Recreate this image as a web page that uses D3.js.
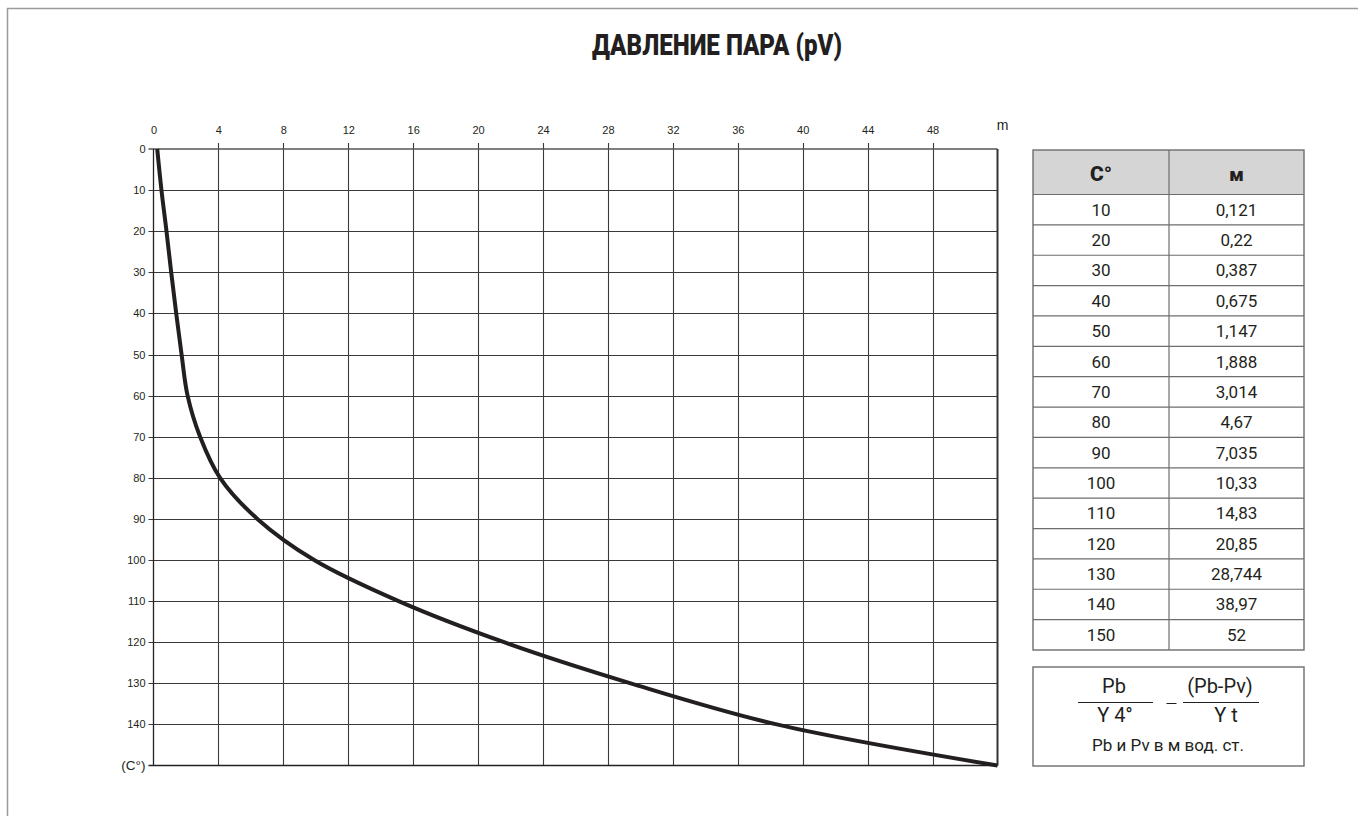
<!DOCTYPE html>
<html>
<head>
<meta charset="utf-8">
<script src="https://cdn.jsdelivr.net/npm/d3@7"></script>
<style>
  html, body { margin: 0; padding: 0; background: #fff; }
  svg { display: block; }
  .cond { font-family: "Roboto", "Liberation Sans Narrow", sans-serif; }
</style>
</head>
<body>
<svg id="chart" width="1358" height="816"></svg>
<script>
// ---- data ----
const titleText = "ДАВЛЕНИЕ ПАРА (pV)";
const xTickValues = [0, 4, 8, 12, 16, 20, 24, 28, 32, 36, 40, 44, 48];
const xUnitLabel = "m";
const yTickValues = [0, 10, 20, 30, 40, 50, 60, 70, 80, 90, 100, 110, 120, 130, 140, 150];
const yTickLabels = ["0", "10", "20", "30", "40", "50", "60", "70", "80", "90", "100", "110", "120", "130", "140", "(C°)"];
// curve: temperature (°C) -> metres of water
const curveTemp   = [0,    10,   20,  30,   40,  50,   60,  70,   80,  90,  100, 110,  120,  130,  140,  150];
const curveMeters = [0.23, 0.49, 0.8, 1.09, 1.4, 1.73, 2.1, 2.87, 4.1, 6.4, 9.9, 15.1, 21.6, 29.4, 38.4, 52];
// table
const tableHeader = ["C°", "м"];
const tableTemp   = ["10", "20", "30", "40", "50", "60", "70", "80", "90", "100", "110", "120", "130", "140", "150"];
const tableMeters = ["0,121", "0,22", "0,387", "0,675", "1,147", "1,888", "3,014", "4,67", "7,035", "10,33", "14,83", "20,85", "28,744", "38,97", "52"];
const noteText = "Pb и Pv в м вод. ст.";

// ---- layout ----
const svg = d3.select("#chart");
const x = d3.scaleLinear().domain([0, 52]).range([153.5, 997.5]);
const y = d3.scaleLinear().domain([0, 150]).range([149, 765.5]);

// outer frame (top + left)
svg.append("path").attr("d", "M7.5,816 V8.5 H1358").attr("fill", "none")
  .attr("stroke", "#9a9a9a").attr("stroke-width", 1.5);

// title
svg.append("text").attr("class", "cond").attr("x", 717).attr("y", 55)
  .attr("text-anchor", "middle").attr("font-weight", 900).attr("font-size", 30)
  .attr("fill", "#231f20").attr("textLength", 250).attr("lengthAdjust", "spacingAndGlyphs")
  .text(titleText);

// grid
const grid = svg.append("g");
grid.selectAll("line.v").data(xTickValues.filter(d => d > 0)).join("line")
  .attr("x1", d => Math.round(x(d)) + 0.5).attr("x2", d => Math.round(x(d)) + 0.5)
  .attr("y1", y(0) - 6).attr("y2", y(150))
  .attr("stroke", "#3a3a3a").attr("stroke-width", 1.1);
grid.selectAll("line.h").data(yTickValues.filter(d => d > 0 && d < 150)).join("line")
  .attr("x1", x(0) - 5).attr("x2", x(52))
  .attr("y1", d => Math.round(y(d)) + 0.5).attr("y2", d => Math.round(y(d)) + 0.5)
  .attr("stroke", "#3a3a3a").attr("stroke-width", 1.1);

// frame of plot
svg.append("line").attr("x1", x(0) - 5).attr("x2", x(52)).attr("y1", y(0)).attr("y2", y(0))
  .attr("stroke", "#555").attr("stroke-width", 1.3);
svg.append("line").attr("x1", x(0) - 5).attr("x2", x(52)).attr("y1", y(150)).attr("y2", y(150))
  .attr("stroke", "#222").attr("stroke-width", 1.5);
svg.append("line").attr("x1", x(0)).attr("x2", x(0)).attr("y1", y(0)).attr("y2", y(150))
  .attr("stroke", "#222").attr("stroke-width", 1.3);
svg.append("line").attr("x1", x(52)).attr("x2", x(52)).attr("y1", y(0)).attr("y2", y(150))
  .attr("stroke", "#333").attr("stroke-width", 2);

// top axis (labels only, tick lines drawn by grid)
const xAxis = d3.axisTop(x).tickValues(xTickValues).tickSize(0).tickPadding(0);
const gx = svg.append("g").attr("transform", `translate(0,${y(0) - 19})`).call(xAxis);
gx.select(".domain").remove();
gx.selectAll("text").attr("font-family", "Liberation Sans, Arial, sans-serif")
  .attr("font-size", 11).attr("fill", "#231f20").attr("dy", "0.35em");
svg.append("text").attr("x", x(52) + 5).attr("y", 130)
  .attr("font-family", "Liberation Sans, Arial, sans-serif").attr("font-size", 14)
  .attr("fill", "#231f20").attr("text-anchor", "middle").text(xUnitLabel);

// left axis
const yAxis = d3.axisLeft(y).tickValues(yTickValues).tickSize(0).tickPadding(0)
  .tickFormat((d, i) => yTickLabels[i]);
const gy = svg.append("g").attr("transform", `translate(${x(0) - 8},0)`).call(yAxis);
gy.select(".domain").remove();
gy.selectAll("text").attr("font-family", "Liberation Sans, Arial, sans-serif")
  .attr("font-size", 11).attr("fill", "#231f20");
gy.selectAll("text").filter((d, i) => i === yTickLabels.length - 1).attr("font-size", 13.5);

// curve
const pts = curveTemp.map((t, i) => [curveMeters[i], t]);
const line = d3.line().x(d => x(d[0])).y(d => y(d[1])).curve(d3.curveCatmullRom.alpha(0.5));
svg.append("path").datum(pts).attr("d", line).attr("fill", "none")
  .attr("stroke", "#231f20").attr("stroke-width", 4).attr("stroke-linecap", "butt");

// ---- table ----
const tx0 = 1033, tx1 = 1304, tmid = 1169, ty0 = 150, headH = 44.5;
const rowH = (650 - ty0 - headH) / tableTemp.length;
const tY = d3.scaleLinear().domain([0, tableTemp.length]).range([ty0 + headH, 650]);
const tb = svg.append("g");
tb.append("rect").attr("x", tx0).attr("y", ty0).attr("width", tx1 - tx0).attr("height", headH)
  .attr("fill", "#d5d5d5");
tb.selectAll("line.r").data(d3.range(0, tableTemp.length)).join("line")
  .attr("x1", tx0).attr("x2", tx1).attr("y1", d => tY(d)).attr("y2", d => tY(d))
  .attr("stroke", "#6d6d6d").attr("stroke-width", 1.2);
tb.append("line").attr("x1", tmid).attr("x2", tmid).attr("y1", ty0).attr("y2", 650)
  .attr("stroke", "#6d6d6d").attr("stroke-width", 1.2);
tb.append("rect").attr("x", tx0).attr("y", ty0).attr("width", tx1 - tx0).attr("height", 650 - ty0)
  .attr("fill", "none").attr("stroke", "#6d6d6d").attr("stroke-width", 1.4);
tb.append("text").attr("class", "cond").attr("x", (tx0 + tmid) / 2).attr("y", ty0 + 31)
  .attr("text-anchor", "middle").attr("font-weight", 900).attr("font-size", 21)
  .attr("fill", "#231f20").text(tableHeader[0]);
tb.append("text").attr("class", "cond").attr("x", (tmid + tx1) / 2).attr("y", ty0 + 31)
  .attr("text-anchor", "middle").attr("font-weight", 900).attr("font-size", 19)
  .attr("fill", "#231f20").text(tableHeader[1]);
tb.selectAll("text.t").data(tableTemp).join("text").attr("class", "cond")
  .attr("x", (tx0 + tmid) / 2).attr("y", (d, i) => tY(i) + rowH / 2 + 6)
  .attr("text-anchor", "middle").attr("font-size", 17).attr("fill", "#231f20").text(d => d);
tb.selectAll("text.m").data(tableMeters).join("text").attr("class", "cond")
  .attr("x", (tmid + tx1) / 2).attr("y", (d, i) => tY(i) + rowH / 2 + 6)
  .attr("text-anchor", "middle").attr("font-size", 17).attr("fill", "#231f20").text(d => d);

// ---- formula box ----
const fb = svg.append("g");
fb.append("rect").attr("x", tx0).attr("y", 667).attr("width", tx1 - tx0).attr("height", 99)
  .attr("fill", "none").attr("stroke", "#6d6d6d").attr("stroke-width", 1.4);
const ftxt = (xx, yy, s, fs) => fb.append("text").attr("class", "cond").attr("x", xx).attr("y", yy)
  .attr("text-anchor", "middle").attr("font-size", fs).attr("fill", "#231f20").text(s);
ftxt(1114, 693, "Pb", 20);
ftxt(1115, 722, "Y 4°", 20);
fb.append("line").attr("x1", 1078).attr("x2", 1153).attr("y1", 702.5).attr("y2", 702.5)
  .attr("stroke", "#231f20").attr("stroke-width", 1);
fb.append("line").attr("x1", 1166.5).attr("x2", 1176.5).attr("y1", 703.5).attr("y2", 703.5)
  .attr("stroke", "#231f20").attr("stroke-width", 1);
ftxt(1220, 693, "(Pb-Pv)", 20);
ftxt(1226, 722, "Y t", 20);
fb.append("line").attr("x1", 1183).attr("x2", 1259).attr("y1", 702.5).attr("y2", 702.5)
  .attr("stroke", "#231f20").attr("stroke-width", 1);
ftxt(1168, 751, noteText, 17);
</script>
</body>
</html>
